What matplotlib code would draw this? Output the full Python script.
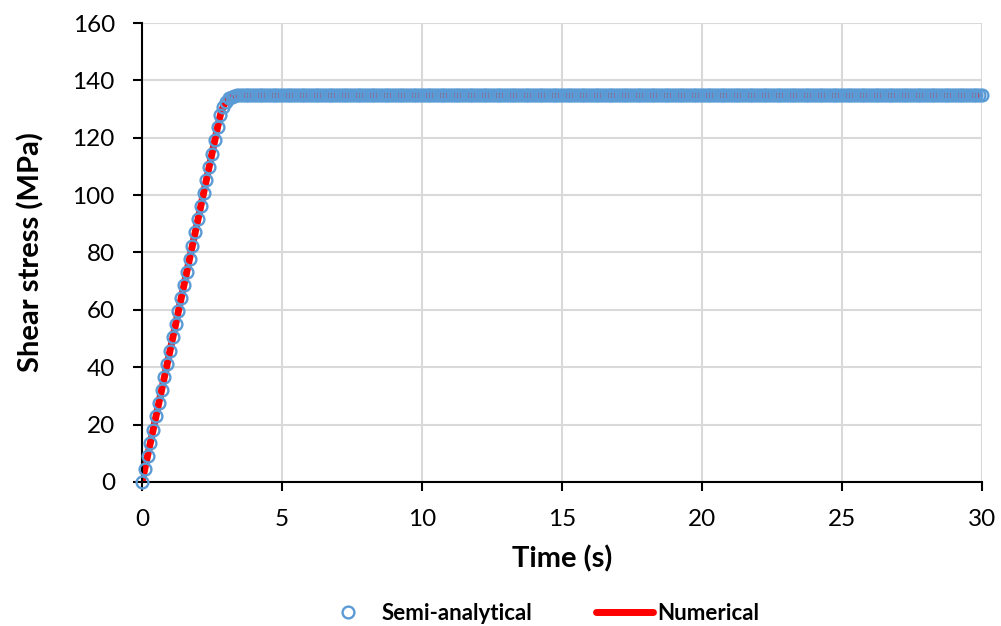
import matplotlib.pyplot as plt
import numpy as np

# time samples every 0.1 s, 0 .. 30 s
time = np.round(np.arange(0, 301) * 0.1, 1)

ramp = [0.0, 4.6, 9.2, 13.7, 18.3, 22.9, 27.5, 32.1, 36.6, 41.2,
        45.8, 50.4, 55.0, 59.5, 64.1, 68.7, 73.3, 77.9, 82.4, 87.0,
        91.6, 96.2, 100.8, 105.3, 109.9, 114.5, 119.1, 123.7, 128.0, 130.8,
        132.6, 133.7, 134.3, 134.7, 134.9, 135.0]
plateau = [135.0] * (len(time) - len(ramp))
semi_analytical = ramp + plateau
numerical = ramp + plateau

plt.rcParams['font.family'] = ['Lato', 'DejaVu Sans']

fig = plt.figure(figsize=(10.01, 6.26), dpi=100)
ax = fig.add_axes([142/1001, 1 - 482/626, 840/1001, 459/626])

ax.plot(time, numerical, color='#FF0000', lw=5, label='Numerical',
        solid_capstyle='round', zorder=2)
ax.plot(time, semi_analytical, ls='none', marker='o', ms=8.5, mfc='none',
        mec='#5B9BD5', mew=1.7, label='Semi-analytical', zorder=3, clip_on=False)

ax.set_xlim(0, 30)
ax.set_ylim(0, 160)
ax.set_xticks(range(0, 31, 5))
ax.set_yticks(range(0, 161, 20))
ax.grid(True, color='#D9D9D9', lw=1.5)
ax.set_axisbelow(True)
for s in ['top', 'right']:
    ax.spines[s].set_visible(False)
ax.spines['left'].set_linewidth(1.5)
ax.spines['bottom'].set_linewidth(1.5)
ax.tick_params(direction='out', length=6.5, width=1.5, labelsize=17.5, pad=13)

ax.set_xlabel('Time (s)', fontsize=21, fontweight='bold', labelpad=11)
ax.set_ylabel('Shear stress (MPa)', fontsize=21, fontweight='bold', labelpad=20)

h, l = ax.get_legend_handles_labels()
fig.legend(h[::-1], l[::-1], loc='center left', bbox_to_anchor=(320/1001, 1 - 613/626),
           ncol=2, frameon=False, prop={'weight': 'bold', 'size': 16},
           borderpad=0, borderaxespad=0, columnspacing=2.9,
           handlelength=2.55, handletextpad=0.2)

plt.savefig('out.png', dpi=100)
